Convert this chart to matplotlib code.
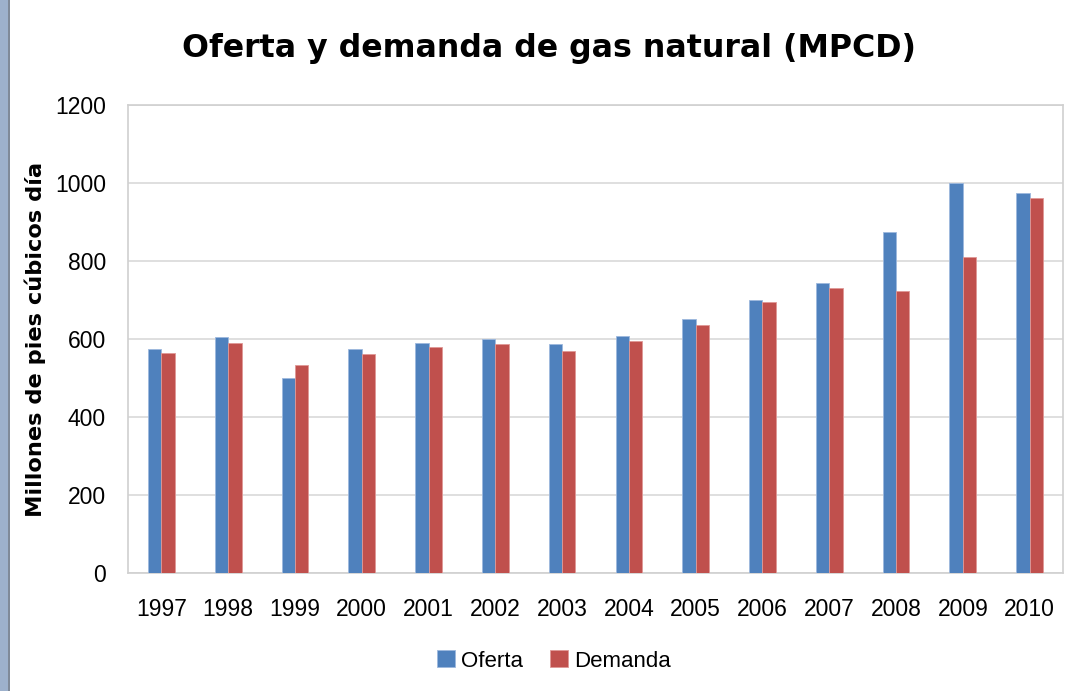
import matplotlib
matplotlib.use("Agg")
import matplotlib.pyplot as plt
import numpy as np
from matplotlib.patches import Rectangle

# datos (MPCD)
years = ["1997", "1998", "1999", "2000", "2001", "2002", "2003",
         "2004", "2005", "2006", "2007", "2008", "2009", "2010"]
oferta = [574, 604, 499, 574, 591, 600, 586, 608, 652, 700, 744, 875, 1000, 975]
demanda = [565, 591, 533, 561, 579, 587, 569, 596, 635, 696, 731, 722, 809, 962]
yticks = [0, 200, 400, 600, 800, 1000, 1200]

BLUE, RED = "#4F81BD", "#C0504D"
W, H = 1074, 691

fig = plt.figure(figsize=(W/100, H/100), dpi=100)
fig.patch.set_facecolor("white")
# franja lateral azul del marco
fig.add_artist(Rectangle((0, 0), 8/W, 1, transform=fig.transFigure,
                         color="#9DB1CC", lw=0))
fig.add_artist(Rectangle((8/W, 0), 1.5/W, 1, transform=fig.transFigure,
                         color="#7F8A99", lw=0))

ax = fig.add_axes([128/W, (H-573)/H, (1063-128)/W, 468/H])
x = np.arange(len(years)); w = 0.2
ax.bar(x - w/2, oferta, w, color=BLUE, edgecolor="#9DB8DD", lw=0.6, label="Oferta", zorder=3)
ax.bar(x + w/2, demanda, w, color=RED, edgecolor="#E09896", lw=0.6, label="Demanda", zorder=3)

ax.set_xlim(-0.5, len(years) - 0.5)
ax.set_ylim(0, 1200)
ax.set_yticks(yticks)
ax.set_xticks(x)
ax.set_xticklabels(years)
ax.yaxis.grid(True, color="#D9D9D9", lw=1.2, zorder=0)
for s in ax.spines.values():
    s.set_color("#D0D0D0"); s.set_linewidth(1.2)
ax.tick_params(axis="both", length=0, labelsize=16.5, colors="black")
ax.tick_params(axis="y", pad=16)
ax.tick_params(axis="x", pad=18)
for lab in ax.get_xticklabels() + ax.get_yticklabels():
    lab.set_family("Liberation Sans")

ax.set_ylabel("Millones de pies cúbicos día", fontsize=16.2, fontweight="bold")
ax.yaxis.set_label_coords((46 - 128) / 935, 0.5)
fig.text(549/W, 1 - 48/H, "Oferta y demanda de gas natural (MPCD)", ha="center", va="center",
         fontsize=22.8, fontweight="bold")

fig.legend(loc="center", bbox_to_anchor=(554/W, 1 - 661/H), ncol=2, frameon=False,
           prop={"family": "Liberation Sans", "size": 16}, handlelength=0.8,
           handleheight=0.8, handletextpad=0.3, columnspacing=1.2)

fig.savefig("out.png", dpi=100)
